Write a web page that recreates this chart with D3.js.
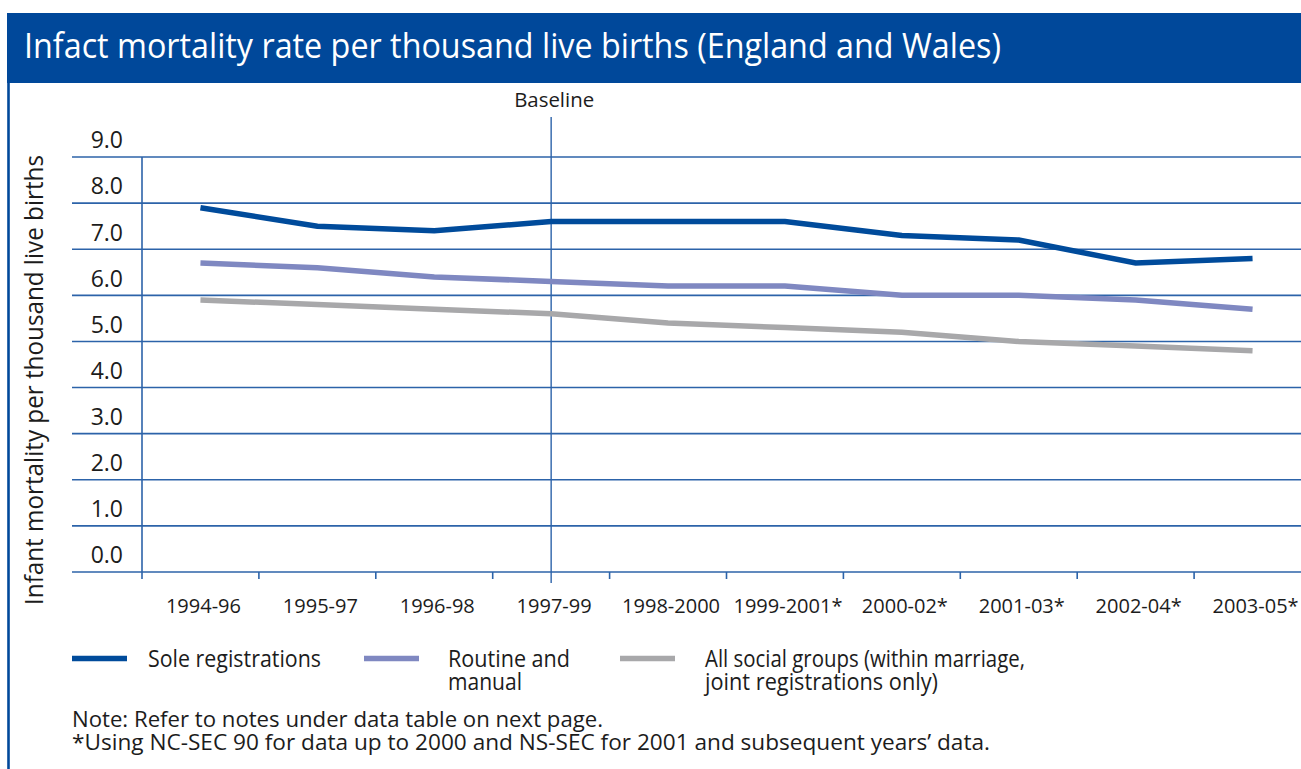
<!DOCTYPE html>
<html>
<head>
<meta charset="utf-8">
<script src="https://cdn.jsdelivr.net/npm/d3@7"></script>
<style>
  body { margin: 0; background: #fff; }
  svg { display: block; font-family: "Open Sans", "Noto Sans", sans-serif; }
</style>
</head>
<body>
<div id="chart"></div>
<script>
(function () {
  // periods (three-year rolling)
  let periods = ["1994-96", "1995-97", "1996-98", "1997-99", "1998-2000",
    "1999-2001*", "2000-02*", "2001-03*", "2002-04*", "2003-05*"];

  let soleRegistrations = [7.9, 7.5, 7.4, 7.6, 7.6, 7.6, 7.3, 7.2, 6.7, 6.8];
  let routineManual = [6.7, 6.6, 6.4, 6.3, 6.2, 6.2, 6.0, 6.0, 5.9, 5.7];
  let allSocialGroups = [5.9, 5.8, 5.7, 5.6, 5.4, 5.3, 5.2, 5.0, 4.9, 4.8];

  let yTicks = [0, 1, 2, 3, 4, 5, 6, 7, 8, 9];
  let baselinePeriod = "1997-99";

  let seriesNames = ["Sole registrations", "Routine and|manual",
    "All social groups (within marriage,|joint registrations only)"];
  let seriesColors = ["#004b9b", "#7f88c1", "#a8a8aa"];

  const W = 1301, H = 769;
  const blue = "#00489a";
  const grid = "#2c63a9";
  const ink = "#1c1c1c";

  let svg = d3.select("#chart").append("svg")
    .attr("width", W)
    .attr("height", H);

  // squeeze text into a width, the original face is a condensed one
  function fit(sel, w) {
    sel.attr("textLength", w).attr("lengthAdjust", "spacingAndGlyphs");
    return sel;
  }

  // title band + left frame
  svg.append("rect")
    .attr("x", 7).attr("y", 13)
    .attr("width", W - 7).attr("height", 70)
    .attr("fill", blue);
  svg.append("line")
    .attr("x1", 8.5).attr("x2", 8.5)
    .attr("y1", 13).attr("y2", H)
    .attr("stroke", blue).attr("stroke-width", 2.6);

  fit(svg.append("text")
    .attr("x", 24).attr("y", 58)
    .attr("fill", "#fff")
    .attr("font-size", 35)
    .text("Infact mortality rate per thousand live births (England and Wales)"), 977);

  // scales
  let x = d3.scaleBand().domain(periods).range([142, 1311]).padding(0);
  let y = d3.scaleLinear().domain([0, 9]).range([572, 157]);
  let cx = d => x(d) + x.bandwidth() / 2;

  // y tick labels sit just above their grid line
  let yAxis = d3.axisLeft(y).tickValues(yTicks).tickSize(0).tickFormat(d3.format(".1f"));
  let yg = svg.append("g").attr("transform", "translate(123,0)").call(yAxis);
  yg.select(".domain").remove();
  yg.selectAll("text")
    .attr("x", 0).attr("dy", "-0.4em")
    .attr("fill", ink)
    .attr("font-size", 23)
    .attr("font-family", "\"Open Sans\", sans-serif");

  svg.append("g").selectAll("line")
    .data(yTicks)
    .join("line")
    .attr("x1", 72).attr("x2", W)
    .attr("y1", d => y(d)).attr("y2", d => y(d))
    .attr("stroke", grid).attr("stroke-width", 1.6);

  // vertical axis line and x ticks
  svg.append("line")
    .attr("x1", 142).attr("x2", 142)
    .attr("y1", y(9)).attr("y2", y(0) + 7)
    .attr("stroke", grid).attr("stroke-width", 1.6);

  let xAxis = d3.axisBottom(x).tickSize(0);
  let xg = svg.append("g").attr("transform", "translate(0," + y(0) + ")").call(xAxis);
  xg.select(".domain").remove();
  xg.selectAll("text")
    .attr("dx", 3).attr("y", 0).attr("dy", 41)
    .attr("fill", ink)
    .attr("font-size", 20)
    .attr("font-family", "\"Open Sans\", sans-serif");

  svg.append("g").selectAll("line")
    .data(periods.slice(1))
    .join("line")
    .attr("x1", d => x(d)).attr("x2", d => x(d))
    .attr("y1", y(0)).attr("y2", y(0) + 7)
    .attr("stroke", grid).attr("stroke-width", 1.6);

  // baseline marker
  let bx = cx(baselinePeriod);
  svg.append("line")
    .attr("x1", bx).attr("x2", bx)
    .attr("y1", 117).attr("y2", y(0) + 11)
    .attr("stroke", grid).attr("stroke-width", 1.4);
  fit(svg.append("text")
    .attr("x", bx + 3).attr("y", 107)
    .attr("text-anchor", "middle")
    .attr("fill", ink)
    .attr("font-size", 20)
    .text("Baseline"), 80);

  // y title
  fit(svg.append("text")
    .attr("transform", "translate(43,380) rotate(-90)")
    .attr("text-anchor", "middle")
    .attr("fill", ink)
    .attr("font-size", 25)
    .text("Infant mortality per thousand live births"), 450);

  // lines
  let line = d3.line()
    .x((d, i) => cx(periods[i]))
    .y(d => y(d));

  let allSeries = [soleRegistrations, routineManual, allSocialGroups];
  // draw back to front so the dark line sits on top
  for (let k = allSeries.length - 1; k >= 0; k--) {
    svg.append("path")
      .datum(allSeries[k])
      .attr("fill", "none")
      .attr("stroke", seriesColors[k])
      .attr("stroke-width", 5.5)
      .attr("stroke-linejoin", "miter")
      .attr("d", line);
  }

  // legend
  let legendX = [72, 364, 620];
  let legendTextX = [148, 448, 705];
  let legendWidths = [[173], [122, 74], [320, 233]];
  let legend = svg.append("g");
  seriesNames.forEach((name, k) => {
    legend.append("line")
      .attr("x1", legendX[k]).attr("x2", legendX[k] + 55)
      .attr("y1", 658.5).attr("y2", 658.5)
      .attr("stroke", seriesColors[k]).attr("stroke-width", 5.5);
    name.split("|").forEach((part, j) => {
      fit(legend.append("text")
        .attr("x", legendTextX[k])
        .attr("y", 667 + j * 23)
        .attr("fill", ink)
        .attr("font-size", 23)
        .text(part), legendWidths[k][j]);
    });
  });

  // notes
  fit(svg.append("text")
    .attr("x", 72).attr("y", 727)
    .attr("fill", ink).attr("font-size", 21)
    .text("Note: Refer to notes under data table on next page."), 531);
  fit(svg.append("text")
    .attr("x", 72).attr("y", 750)
    .attr("fill", ink).attr("font-size", 21)
    .text("*Using NC-SEC 90 for data up to 2000 and NS-SEC for 2001 and subsequent years\u2019 data."), 918);
})()
</script>
</body>
</html>
